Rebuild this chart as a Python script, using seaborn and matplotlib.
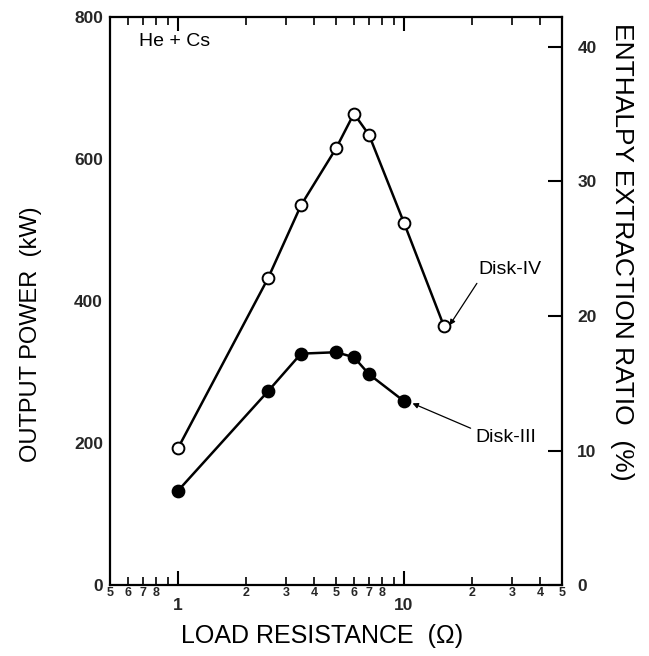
import matplotlib
matplotlib.use("Agg")
import matplotlib.pyplot as plt
import seaborn as sns
import pandas as pd
from matplotlib.ticker import FixedLocator, FixedFormatter

sns.set_theme(style="white")
plt.rcParams['font.family'] = ['Liberation Sans', 'DejaVu Sans']

# Data
disk4_r = [1, 2.5, 3.5, 5, 6, 7, 10, 15]
disk4_p = [193, 432, 535, 615, 664, 634, 510, 365]
disk3_r = [1, 2.5, 3.5, 5, 6, 7, 10]
disk3_p = [133, 273, 326, 328, 321, 297, 259]

major_x = [1, 10]
major_x_labels = ['1', '10']
minor_x = [0.5, 0.6, 0.7, 0.8, 0.9, 2, 3, 4, 5, 6, 7, 8, 9, 20, 30, 40, 50]
minor_x_labels = ['5', '6', '7', '8', '', '2', '3', '4', '5', '6', '7', '8', '', '2', '3', '4', '5']
left_ticks = [0, 200, 400, 600, 800]
right_ticks = [0, 10, 20, 30, 40]

df4 = pd.DataFrame({'R': disk4_r, 'P': disk4_p})
df3 = pd.DataFrame({'R': disk3_r, 'P': disk3_p})

fig = plt.figure(figsize=(6.49, 6.56), dpi=100)
ax = fig.add_axes([0.1695, 0.108, 0.6965, 0.866])

sns.lineplot(data=df4, x='R', y='P', ax=ax, sort=False, estimator=None,
             color='black', lw=1.8, marker='o', markersize=8.5,
             markerfacecolor='white', markeredgecolor='black', markeredgewidth=1.4)
sns.lineplot(data=df3, x='R', y='P', ax=ax, sort=False, estimator=None,
             color='black', lw=1.8, marker='o', markersize=8.5,
             markerfacecolor='black', markeredgecolor='black', markeredgewidth=1.4)

ax.set_xscale('log')
ax.set_xlim(0.5, 50)
ax.set_ylim(0, 800)
ax.xaxis.set_major_locator(FixedLocator(major_x))
ax.xaxis.set_major_formatter(FixedFormatter(major_x_labels))
ax.xaxis.set_minor_locator(FixedLocator(minor_x))
ax.xaxis.set_minor_formatter(FixedFormatter(minor_x_labels))
ax.set_yticks(left_ticks)
ax.set_yticklabels([str(t) for t in left_ticks], fontweight='bold', fontsize=12.5)

ax.tick_params(axis='x', which='major', direction='in', length=10, width=1.5,
               top=True, bottom=True, labelsize=12.5, pad=9, color='black')
ax.tick_params(axis='x', which='minor', direction='in', length=6, width=1.2,
               top=True, bottom=True, labelsize=9, pad=1.5, color='black')
for lab in ax.xaxis.get_minorticklabels() + ax.xaxis.get_majorticklabels():
    lab.set_fontweight('bold')
ax.tick_params(axis='y', which='major', direction='in', length=0, pad=5)

for s in ax.spines.values():
    s.set_color('black')
    s.set_linewidth(1.6)

ax.set_xlabel('')
ax.set_ylabel('')

ax2 = ax.twinx()
ax2.set_ylim(0, 42.2)
ax2.set_yticks(right_ticks)
ax2.set_yticklabels([str(t) for t in right_ticks], fontweight='bold', fontsize=12.5)
ax2.tick_params(axis='y', direction='in', length=10, width=1.5, pad=11, color='black')
for s in ax2.spines.values():
    s.set_visible(False)

fig.text(322 / 649, 1 - 636 / 656, 'LOAD RESISTANCE  (\u03a9)', fontsize=18,
         ha='center', va='center', color='black')
fig.text(31 / 649, 1 - 334 / 656, 'OUTPUT POWER  (kW)', fontsize=17,
         rotation=90, ha='center', va='center', color='black')
fig.text(622 / 649, 1 - 252 / 656, 'ENTHALPY EXTRACTION RATIO  (%)', fontsize=19,
         rotation=-90, ha='center', va='center', color='black')

ax.text(0.673, 766, 'He + Cs', fontsize=14, color='black', va='center')

ax.text(21.4, 444, 'Disk-IV', fontsize=14, color='black', va='center', ha='left')
ax.text(20.6, 208, 'Disk-III', fontsize=14, color='black', va='center', ha='left')
ax.annotate('', xy=(15.9, 366), xytext=(21.0, 425),
            arrowprops=dict(arrowstyle='-|>', color='black', lw=0.9,
                            mutation_scale=8, shrinkA=0, shrinkB=0))
ax.annotate('', xy=(10.9, 256), xytext=(19.7, 221),
            arrowprops=dict(arrowstyle='-|>', color='black', lw=0.9,
                            mutation_scale=8, shrinkA=0, shrinkB=0))

fig.savefig('out.png', dpi=100)
